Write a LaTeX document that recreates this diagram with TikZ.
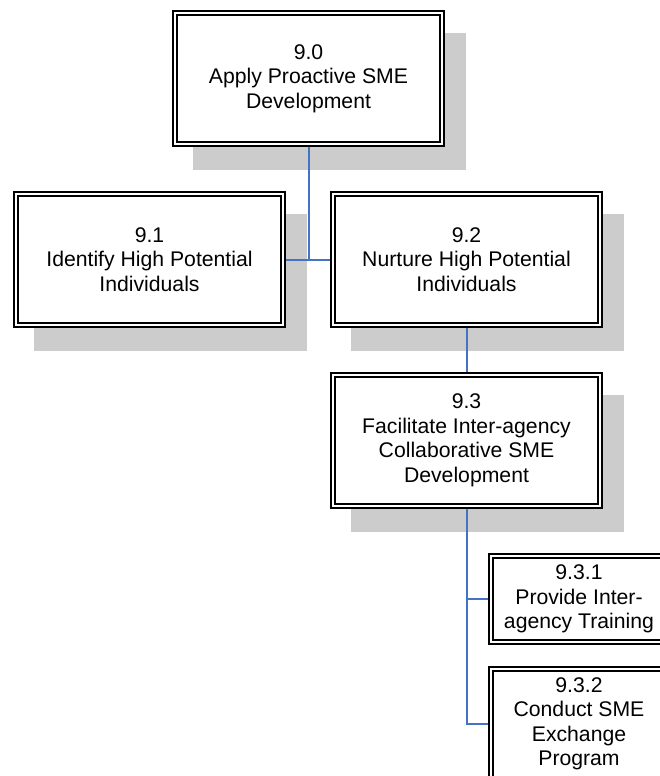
\documentclass[tikz,border=0pt]{standalone}
\usepackage{fontspec}
\setmainfont{Liberation Sans}
\usetikzlibrary{positioning,backgrounds}
\definecolor{linkblue}{RGB}{68,114,196}
\definecolor{shadegray}{RGB}{204,204,204}

\begin{document}
\begin{tikzpicture}[x=1pt, y=-1pt,
  task/.style={draw=black, fill=white, line width=1.9pt, double=white,
    double distance=2.4pt, outer sep=3.1pt, inner sep=0pt, align=center,
    font=\fontsize{21.2}{24.5}\selectfont,
    minimum width=266.8pt, minimum height=130.8pt},
  subtask/.style={task, minimum width=175.8pt, minimum height=85.8pt},
  link/.style={draw=linkblue, line width=2pt}]
  \useasboundingbox (0,0) rectangle (660,776);
  \clip (0,0) rectangle (660,776);

  % === Main tasks ===
  \node[task] (n90) at (308.5,78.5) {9.0\\Apply Proactive SME\\Development};
  \node[task] (n91) at (149.5,259.5) {9.1\\Identify High Potential\\Individuals};
  \node[task, right=44pt of n91] (n92) {9.2\\Nurture High Potential\\Individuals};
  \node[task, below=44pt of n92] (n93)
    {9.3\\Facilitate Inter-agency\\Collaborative SME\\Development};

  % === Sub tasks of 9.3 ===
  \node[subtask] (n931) at (579,599) {9.3.1\\Provide Inter-\\agency Training};
  \node[subtask, minimum height=109.8pt, below=21pt of n931] (n932)
    {9.3.2\\Conduct SME\\Exchange\\Program};

  % Shadows behind the main tasks
  \begin{scope}[on background layer]
    \foreach \n in {n90,n91,n92,n93} {
      \fill[shadegray] ([shift={(21,23)}]\n.north west)
        rectangle ([shift={(21,23)}]\n.south east);
    }
  \end{scope}

  % Connectors
  \draw[link] (n90.south) |- (n92.west);
  \draw[link] (n91.east) -- (n92.west);
  \draw[link] (n92.south) -- (n93.north);
  \draw[link] (n93.south) |- (n931.west);
  \draw[link] (n93.south) |- (n932.west);
\end{tikzpicture}
\end{document}
